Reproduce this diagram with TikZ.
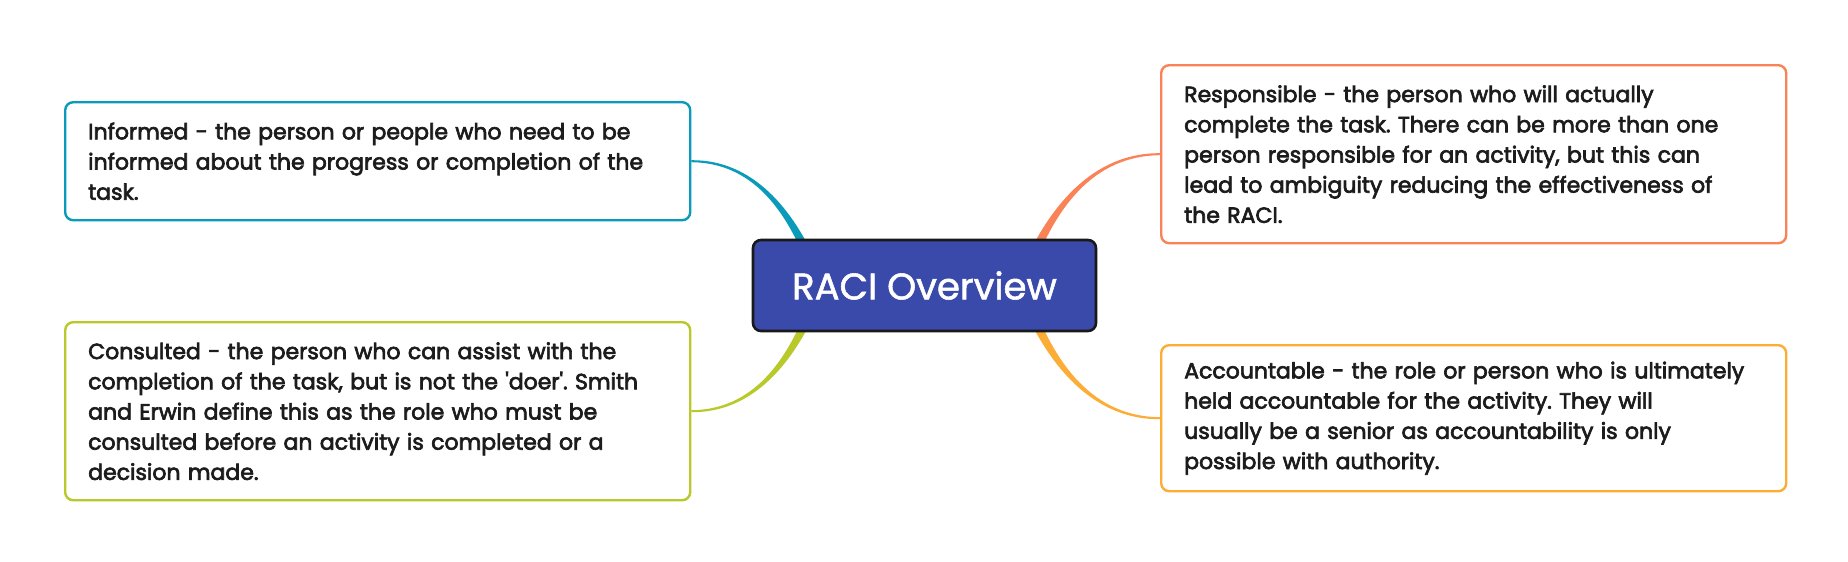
\documentclass[tikz,border=0pt]{standalone}
\usepackage{fontspec}
\setmainfont{Poppins}
\newfontfamily\bodyfont{Poppins}[UprightFeatures={FakeBold=3}]
\newfontfamily\titlefont{Poppins}[UprightFeatures={FakeBold=1.5}]
\usetikzlibrary{calc,backgrounds}
\definecolor{cteal}{HTML}{0A9BBB}
\definecolor{corange}{HTML}{FA8257}
\definecolor{clime}{HTML}{B9C92B}
\definecolor{cgold}{HTML}{FCAD36}
\definecolor{ccentre}{HTML}{3A4AAA}
\definecolor{ctext}{HTML}{1C1C1C}
\tikzset{
  topic/.style={draw=#1, line width=2.4pt, rounded corners=8pt, fill=white,
    anchor=north west, inner xsep=23pt, inner ysep=0pt, align=left,
    text width=579pt, text=ctext, font=\bodyfont\frenchspacing\fontsize{22}{30.2}\selectfont},
  centrebox/.style={draw=black!90, line width=2.6pt, rounded corners=8pt, fill=ccentre,
    text=white, minimum width=343pt, minimum height=91pt, inner sep=0pt,
    font=\titlefont\fontsize{37}{44}\selectfont}
}
\begin{document}
\begin{tikzpicture}[x=1pt,y=-1pt]
\useasboundingbox (0,0) rectangle (1848,562);
\node[centrebox] (C) at (924.5,285.5) {RACI Overview};
\node[topic=cteal, minimum height=118pt] (I) at (64,101)
  {Informed - the person or people who need to be\\
   informed about the progress or completion of the\\
   task.};
\node[topic=clime, minimum height=178pt] (Co) at (64,321)
  {Consulted - the person who can assist with the\\
   completion of the task, but is not the \textquotesingle doer\textquotesingle. Smith\\
   and Erwin define this as the role who must be\\
   consulted before an activity is completed or a\\
   decision made.};
\node[topic=corange, minimum height=178pt] (R) at (1160,64)
  {Responsible - the person who will actually\\
   complete the task. There can be more than one\\
   person responsible for an activity, but this can\\
   lead to ambiguity reducing the effectiveness of\\
   the RACI.};
\node[topic=cgold, minimum height=146pt] (A) at (1160,344)
  {Accountable - the role or person who is ultimately\\
   held accountable for the activity. They will\\
   usually be a senior as accountability is only\\
   possible with authority.};
\begin{scope}[on background layer]
\fill[white] (0,0) rectangle (1848,562);
\fill[cteal] ($(I.east)+(0,-1)$) .. controls ($(I.east)+(61,-1.5)$) and ($(I.east)+(102,47)$) .. ($(I.east)+(128,108)$)
  -- ($(I.east)+(119,112)$) .. controls ($(I.east)+(96,49)$) and ($(I.east)+(61,1.5)$) .. ($(I.east)+(0,1)$) -- cycle;
\fill[clime] ($(Co.east)+(0,1)$) .. controls ($(Co.east)+(61,1.5)$) and ($(Co.east)+(102,-47)$) .. ($(Co.east)+(128,-108)$)
  -- ($(Co.east)+(119,-112)$) .. controls ($(Co.east)+(96,-49)$) and ($(Co.east)+(61,-1.5)$) .. ($(Co.east)+(0,-1)$) -- cycle;
\fill[corange] ($(R.west)+(0,-1)$) .. controls ($(R.west)+(-67,-1.5)$) and ($(R.west)+(-112,52)$) .. ($(R.west)+(-140,119)$)
  -- ($(R.west)+(-130,123)$) .. controls ($(R.west)+(-106,54)$) and ($(R.west)+(-67,1.5)$) .. ($(R.west)+(0,1)$) -- cycle;
\fill[cgold] ($(A.west)+(0,1)$) .. controls ($(A.west)+(-67,1.5)$) and ($(A.west)+(-112,-52)$) .. ($(A.west)+(-140,-119)$)
  -- ($(A.west)+(-130,-123)$) .. controls ($(A.west)+(-106,-54)$) and ($(A.west)+(-67,-1.5)$) .. ($(A.west)+(0,-1)$) -- cycle;
\end{scope}
\end{tikzpicture}
\end{document}
